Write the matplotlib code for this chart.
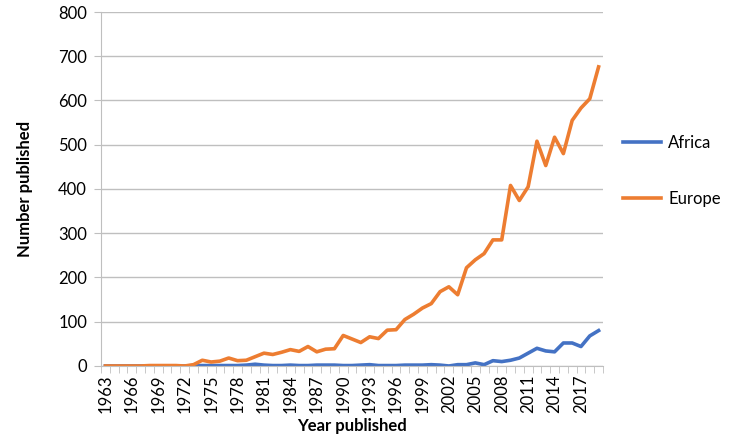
import matplotlib.pyplot as plt
import numpy as np

plt.rcParams['font.family'] = ['Lato', 'DejaVu Sans']

years = list(range(1963, 2020))

africa = [0, 0, 0, 0, 0, 0, 0, 0, 0, 0,
          1, 1, 1, 1, 1, 1, 2, 4, 2, 1,
          1, 2, 1, 1, 2, 2, 2, 1, 1, 2,
          3, 1, 1, 1, 2, 2, 2, 3, 2, 0,
          3, 3, 7, 3, 12, 10, 13, 18, 29, 40,
          34, 32, 52, 52, 44, 68, 80]

europe = [0, 0, 0, 0, 0, 1, 1, 1, 1, 0,
          3, 13, 9, 11, 18, 12, 13, 21, 29, 26,
          31, 37, 33, 44, 32, 38, 39, 69, 61, 53,
          66, 62, 81, 82, 105, 117, 131, 141, 168, 179,
          161, 222, 240, 254, 285, 285, 408, 374, 405, 508,
          453, 517, 480, 555, 583, 604, 676]

fig = plt.figure(figsize=(7.5, 4.38), dpi=100)
ax = fig.add_axes([0.1347, 0.1644, 0.6693, 0.8082])

x = np.arange(len(years))
ax.plot(x, africa, color='#4472C4', lw=2.6, label='Africa', solid_joinstyle='round')
ax.plot(x, europe, color='#ED7D31', lw=2.6, label='Europe', solid_joinstyle='round')

ax.set_xlim(-0.5, len(years) - 0.5)
ax.set_ylim(0, 800)
ax.set_yticks(range(0, 801, 100))
ax.yaxis.grid(True, color='#BFBFBF', lw=1)
ax.set_axisbelow(True)

ax.set_xticks(x[::3])
ax.set_xticklabels([str(y) for y in years[::3]], rotation=90)
ax.set_xticks(np.arange(-0.5, len(years), 1), minor=True)
ax.tick_params(axis='x', which='major', length=0, pad=6, labelsize=12)
ax.tick_params(axis='x', which='minor', length=5, color='#BFBFBF')
ax.tick_params(axis='y', length=5, color='#BFBFBF', labelsize=12, pad=5)

for s in ['top', 'right']:
    ax.spines[s].set_visible(False)
ax.spines['left'].set_color('#BFBFBF')
ax.spines['bottom'].set_color('#BFBFBF')

ax.set_ylabel('Number published', fontsize=12, fontweight='bold', labelpad=18)
ax.set_xlabel('Year published', fontsize=12, fontweight='bold', labelpad=4)

ax.legend(loc='center left', bbox_to_anchor=(1.01, 0.55), frameon=False,
          fontsize=12, labelspacing=2.4, handlelength=2.3, handletextpad=0.4)

plt.savefig('out.png', dpi=100)
